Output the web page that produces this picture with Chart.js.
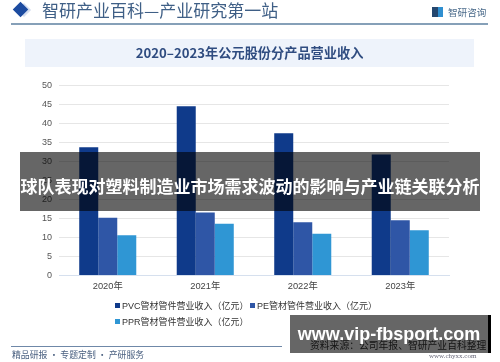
<!DOCTYPE html>
<html><head><meta charset="utf-8">
<script src="https://cdn.jsdelivr.net/npm/chart.js@4"></script>
<style>
html,body{margin:0;padding:0;background:#fff;width:500px;height:362px;overflow:hidden;font-family:"Noto Sans CJK SC",sans-serif}
.a{position:absolute;white-space:nowrap}
#wrap{position:absolute;left:35px;top:73px;width:420px;height:227px}
#all{position:absolute;left:0;top:0;width:500px;height:362px;filter:blur(.35px)}
.lg{font:9px/14px "Liberation Sans","Noto Sans CJK SC",sans-serif;color:#333}
.lg i{display:inline-block;width:5px;height:5px;margin-right:2px;vertical-align:1px}
</style></head><body><div id="all">
<div class="a" style="top:5px;width:10px;height:10px;background:#d5def0;transform:rotate(45deg);left:19px"></div>
<div class="a" style="left:15px;top:4px;width:11px;height:11px;background:#1c4ba0;transform:rotate(45deg)"></div>
<div class="a" style="left:42px;top:-1px;font-size:17px;line-height:22px;color:#3f5f86">智研产业百科—产业研究第一站</div>
<div class="a" style="left:432px;top:7px;width:11px;height:10px;background:linear-gradient(90deg,#24476f 55%,#2f8fd0 55%)"></div>
<div class="a" style="left:448px;top:5px;font-size:9.6px;line-height:14px;color:#4a6a8a">智研咨询</div>
<div class="a" style="left:11px;top:23px;width:477px;height:2px;background:#86a0b8"></div>
<div class="a" style="left:25px;top:39px;width:449px;height:28px;background:#eef3fb"></div>
<div class="a" style="left:25px;top:39px;width:449px;height:28px;line-height:28px;text-align:center;font-size:13.2px;font-weight:700;color:#2f4c80">2020–2023年公元股份分产品营业收入</div>
<div id="wrap"><canvas id="c" width="420" height="227"></canvas></div>
<div id="legend"></div>
<div class="a" style="left:11px;top:346px;width:271px;height:1px;background:#6f88a8"></div>
<div class="a" style="left:12px;top:348px;font-size:8.9px;line-height:13px;color:#4a6080">精品研报 · 专题定制 · 产研服务</div>
<div class="a" style="left:310px;top:338px;font-size:9.8px;line-height:14px;color:#333">资料来源：公司年报、智研产业百科整理</div>
<div class="a" style="left:429px;top:351px;font-size:7px;line-height:10px;color:#667;font-family:'Liberation Serif',serif">www.chyxx.com</div>
<div class="a" style="left:20px;top:152px;width:460px;height:59px;background:rgba(0,0,0,.6)"></div>
<div class="a" style="left:20px;top:152px;width:460px;height:59px;line-height:67px;text-align:center;font-size:17px;font-weight:700;color:#fff">球队表现对塑料制造业市场需求波动的影响与产业链关联分析</div>
<div class="a" style="left:290px;top:315px;width:198px;height:38px;background:rgba(0,0,0,.6)"></div>
<div class="a" style="left:488px;top:315px;width:3px;height:38px;background:#000"></div>
<div class="a" style="left:290px;top:315px;width:198px;height:38px;line-height:38px;text-align:center;font-family:'Liberation Sans',sans-serif;font-size:18px;font-weight:700;color:#fff">www.vip-fbsport.com</div>
</div>
<script>
const categories=["2020年","2021年","2022年","2023年"];
const pvcValues=[33.7,44.5,37.4,31.8];
const peValues=[15.2,16.6,14,14.5];
const pprValues=[10.6,13.6,11,11.9];
const seriesNames=["PVC管材管件营业收入（亿元）","PE管材管件营业收入（亿元）","PPR管材管件营业收入（亿元）"];
const seriesColors=["#0f3a8a","#2f56a6","#2f96d4"];
const valueLists=[pvcValues,peValues,pprValues];
const legendSpots=[[115,299],[250,299],[115,315]];
document.getElementById("legend").innerHTML=seriesNames.map((n,i)=>`<div class="a lg" style="left:${legendSpots[i][0]}px;top:${legendSpots[i][1]}px"><i style="background:${seriesColors[i]}"></i>${n}</div>`).join("");
new Chart(document.getElementById("c"),{
 type:"bar",
 data:{labels:categories,datasets:valueLists.map((v,i)=>({label:seriesNames[i],data:v,backgroundColor:seriesColors[i],borderWidth:0,categoryPercentage:.585,barPercentage:1}))},
 options:{responsive:false,animation:false,devicePixelRatio:1,
  layout:{padding:{left:0,right:6,top:3,bottom:0}},
  plugins:{title:{display:false},tooltip:{enabled:false},legend:{display:false}},
  scales:{
   x:{afterFit(s){s.height=24.5},grid:{display:false,drawTicks:false},border:{color:"#d6e0ee",width:1},ticks:{color:"#444",padding:5,maxRotation:0,font:{size:9.3,family:"'Liberation Sans','Noto Sans CJK SC',sans-serif"}}},
   y:{min:0,max:50,afterFit(s){s.width=24},grid:{color:"#e6e6e6",drawTicks:false},border:{display:false},ticks:{stepSize:5,color:"#555",padding:7,font:{size:9,family:"'Liberation Sans',sans-serif"}}}
  }}
});
</script></body></html>
